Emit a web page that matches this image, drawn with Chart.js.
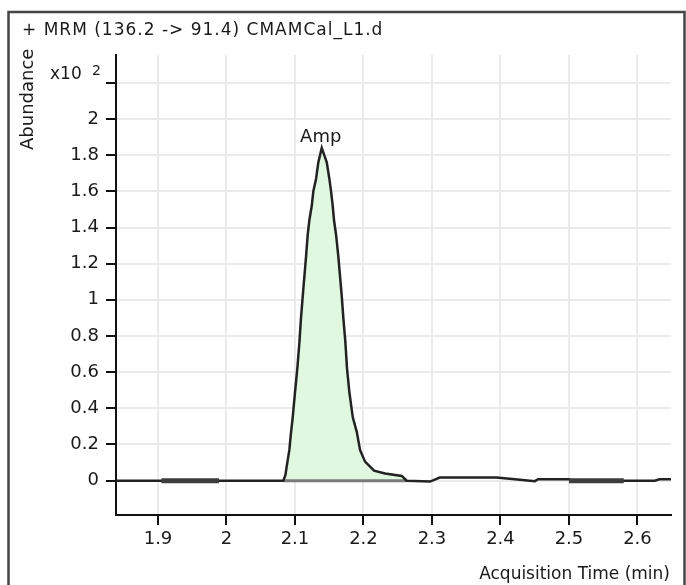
<!DOCTYPE html>
<html>
<head>
<meta charset="utf-8">
<title>MRM chromatogram</title>
<script src="https://cdn.jsdelivr.net/npm/chart.js@4.4.1/dist/chart.umd.min.js"></script>
<style>
  html, body { margin: 0; padding: 0; background: #fff; }
  #wrap { width: 686px; height: 585px; }
</style>
</head>
<body>
<div id="wrap"><canvas id="chrom" width="686" height="585"></canvas></div>
<script>
// ===== DATA =====
const titleText = '+ MRM (136.2 -> 91.4) CMAMCal_L1.d';
const peakName = 'Amp';

// acquisition time (min) and abundance (x10^2)
const times = [
  1.8387, 2.083, 2.086, 2.088, 2.0918, 2.0938, 2.0967, 2.1001, 2.1034, 2.1064,
  2.1088, 2.1122, 2.1162, 2.1186, 2.121, 2.1245, 2.1268, 2.1308, 2.1341, 2.1391,
  2.1464, 2.1502, 2.1527, 2.1551, 2.157, 2.16, 2.1633, 2.1658, 2.1683, 2.1706,
  2.1735, 2.176, 2.1794, 2.1844, 2.1902, 2.195, 2.2023, 2.2155, 2.2315, 2.2559,
  2.2632, 2.2973, 2.3114, 2.3941, 2.421, 2.4502, 2.455, 2.50, 2.505, 2.6254,
  2.632, 2.649
];
const abundance = [
  0, 0, 0.03, 0.08, 0.17, 0.25, 0.35, 0.49, 0.62, 0.76,
  0.90, 1.06, 1.24, 1.36, 1.44, 1.52, 1.60, 1.67, 1.76, 1.84,
  1.76, 1.67, 1.60, 1.52, 1.44, 1.36, 1.24, 1.13, 1.02, 0.90,
  0.77, 0.62, 0.49, 0.35, 0.27, 0.17, 0.105, 0.055, 0.04, 0.026,
  0, -0.005, 0.017, 0.017, 0.008, -0.003, 0.008, 0.008, 0, 0,
  0.008, 0.008
];

// integrated peak and baseline markers
const peakStart = 2.083;
const peakEnd = 2.2632;
const markerStarts = [1.905, 2.500];
const markerEnds = [1.989, 2.580];

const xTicks = [1.9, 2.0, 2.1, 2.2, 2.3, 2.4, 2.5, 2.6];
const xTickLabels = ['1.9', '2', '2.1', '2.2', '2.3', '2.4', '2.5', '2.6'];
const yTicks = [0, 0.2, 0.4, 0.6, 0.8, 1.0, 1.2, 1.4, 1.6, 1.8, 2.0, 2.2];
const yTickLabels = ['0', '0.2', '0.4', '0.6', '0.8', '1', '1.2', '1.4', '1.6', '1.8', '2', ''];

// ===== BUILD =====
const FONT = 'DejaVu Sans';
const INK = '#1a1a1a';

const trace = times.map((t, i) => ({ x: t, y: abundance[i] }));
const peakArea = trace.filter(p => p.x >= peakStart && p.x <= peakEnd);

const datasets = [
  {
    label: 'peak area',
    data: peakArea,
    borderColor: 'rgba(0,0,0,0)',
    backgroundColor: '#dff8df',
    fill: 'origin',
    order: 5
  },
  {
    label: 'peak baseline',
    data: [{ x: peakStart, y: 0 }, { x: peakEnd, y: 0 }],
    borderColor: '#7a7a7a',
    borderWidth: 3,
    order: 4
  },
  {
    label: 'trace',
    data: trace,
    borderColor: '#222',
    borderWidth: 2.5,
    order: 1
  },
  // markers go on top of the trace
  ...markerStarts.map((s, i) => ({
    label: 'marker ' + (i + 1),
    data: [{ x: s, y: 0 }, { x: markerEnds[i], y: 0 }],
    borderColor: '#3d3d3d',
    borderWidth: 5,
    order: 0
  }))
];

// text, frame and exponent that the axes do not draw themselves
const decorations = {
  id: 'decorations',
  afterDraw(chart) {
    const { ctx, scales } = chart;
    ctx.save();

    ctx.strokeStyle = '#444';
    ctx.lineWidth = 2.5;
    ctx.strokeRect(8.5, 12, 676, 620);

    ctx.fillStyle = INK;
    ctx.font = `17px "${FONT}"`;
    ctx.textBaseline = 'alphabetic';
    ctx.textAlign = 'left';
    ctx.letterSpacing = '1px';
    ctx.fillText(titleText, 22, 35);
    ctx.letterSpacing = '0px';

    // exponent next to the top tick
    const yTop = scales.y.getPixelForValue(yTicks[yTicks.length - 1]);
    ctx.fillText('x10', 50, yTop - 4);
    ctx.font = `14px "${FONT}"`;
    ctx.fillText('2', 92, yTop - 8);

    ctx.font = `17px "${FONT}"`;
    ctx.textAlign = 'right';
    ctx.fillText('Acquisition Time (min)', 670, 579);

    ctx.font = `18px "${FONT}"`;
    ctx.save();
    ctx.translate(33, 150);
    ctx.rotate(-Math.PI / 2);
    ctx.textAlign = 'left';
    ctx.fillText('Abundance', 0, 0);
    ctx.restore();

    // peak label above the apex
    const top = abundance.indexOf(Math.max(...abundance));
    const px = scales.x.getPixelForValue(times[top]);
    const py = scales.y.getPixelForValue(abundance[top]);
    ctx.textAlign = 'center';
    ctx.fillText(peakName, px - 1, py - 6);

    ctx.restore();
  }
};

new Chart(document.getElementById('chrom'), {
  type: 'line',
  data: { datasets },
  options: {
    responsive: false,
    animation: false,
    events: [],
    layout: { padding: { left: 0, right: 15, top: 55, bottom: 0 } },
    elements: {
      point: { radius: 0 },
      line: { tension: 0, borderJoinStyle: 'miter' }
    },
    plugins: {
      legend: { display: false },
      tooltip: { enabled: false }
    },
    scales: {
      x: {
        type: 'linear',
        min: 1.8387,
        max: 2.649,
        afterBuildTicks: axis => { axis.ticks = xTicks.map(v => ({ value: v })); },
        afterFit: axis => { axis.height = 70; },
        ticks: {
          color: INK,
          font: { family: FONT, size: 18 },
          padding: 4,
          maxRotation: 0,
          callback: v => xTickLabels[xTicks.indexOf(v)] ?? ''
        },
        grid: { color: '#ebebeb', lineWidth: 2, tickColor: '#111', tickWidth: 2, tickLength: 10 },
        border: { color: '#111', width: 2 }
      },
      y: {
        type: 'linear',
        min: -0.19,
        max: 2.354,
        afterBuildTicks: axis => { axis.ticks = yTicks.map(v => ({ value: v })); },
        afterFit: axis => { axis.width = 116; },
        ticks: {
          color: INK,
          font: { family: FONT, size: 18 },
          padding: 7,
          callback: v => yTickLabels[yTicks.findIndex(t => Math.abs(t - v) < 1e-9)] ?? ''
        },
        grid: { color: '#ebebeb', lineWidth: 2, tickColor: '#111', tickWidth: 2, tickLength: 10 },
        border: { color: '#111', width: 2 }
      }
    }
  },
  plugins: [decorations]
});
</script>
</body>
</html>
